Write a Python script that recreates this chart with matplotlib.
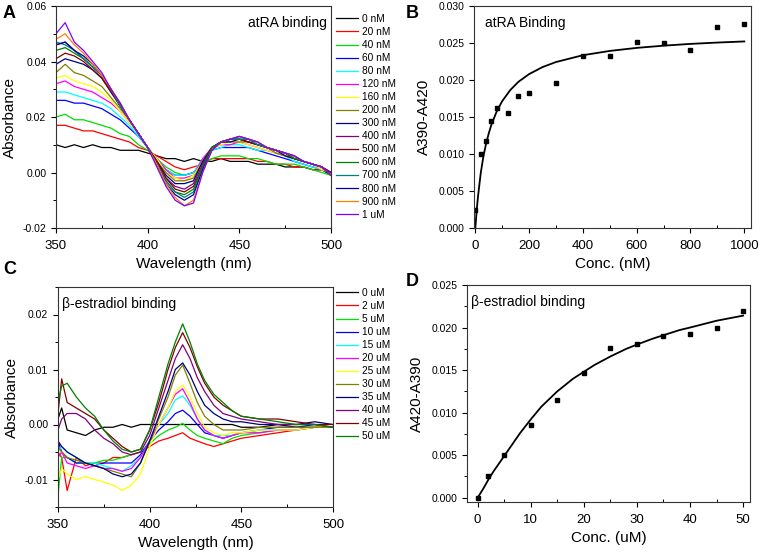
import numpy as np
import matplotlib.pyplot as plt
from matplotlib.ticker import MultipleLocator, FormatStrFormatter

plt.rcParams['font.family'] = ['Liberation Sans', 'DejaVu Sans']
plt.rcParams['axes.unicode_minus'] = False

# Origin default colour order
origin_colors = ['#000000', '#ff0000', '#00e000', '#0000ff', '#00ffff', '#ff00ff',
                 '#ffff00', '#808000', '#000080', '#800080', '#800000', '#008000',
                 '#008080', '#0000a0', '#ff8000', '#8000ff']

# ---- Panel A: atRA spectra (values in 1e-3 absorbance units) ----
wl_a = [350, 355, 360, 365, 370, 375, 380, 385, 390, 395, 400, 405, 410, 415, 420, 425,
        430, 435, 440, 445, 450, 455, 460, 465, 470, 475, 480, 485, 490, 495, 500]
labels_a = ['0 nM', '20 nM', '40 nM', '60 nM', '80 nM', '120 nM', '160 nM', '200 nM',
            '300 nM', '400 nM', '500 nM', '600 nM', '700 nM', '800 nM', '900 nM', '1 uM']
spec_a = [
    [10, 9, 10, 9, 10, 9, 9, 8, 8, 8, 7, 6, 5, 5, 4, 5, 4, 4, 5, 4, 4, 4, 3, 3, 3, 2, 2, 2, 1, 1, -1],
    [17, 17, 16, 15, 15, 14, 13, 12, 11, 9, 8, 6, 4, 2, 1, 2, 3, 5, 5, 5, 5, 5, 4, 4, 3, 3, 2, 2, 1, 1, 0],
    [20, 21, 19, 19, 18, 17, 16, 14, 13, 10, 8, 5, 2, 0, -1, 0, 3, 5, 6, 6, 6, 5, 5, 4, 3, 3, 3, 2, 1, 0, -1],
    [26, 26, 25, 25, 24, 23, 21, 19, 16, 13, 9, 5, 1, -1, -1, 0, 4, 8, 9, 9, 9, 9, 8, 7, 6, 5, 4, 3, 2, 1, 0],
    [29, 29, 28, 27, 26, 25, 23, 20, 17, 13, 9, 5, 1, -1, -1, 0, 5, 8, 9, 10, 10, 9, 8, 8, 7, 6, 4, 3, 2, 1, 0],
    [32, 33, 31, 30, 29, 27, 25, 22, 18, 14, 9, 5, 1, -2, -2, -1, 5, 9, 10, 10, 11, 10, 9, 8, 7, 6, 5, 4, 3, 1, 0],
    [34, 35, 33, 32, 31, 29, 26, 22, 18, 14, 9, 5, 0, -2, -3, -1, 4, 9, 10, 11, 11, 10, 9, 8, 7, 6, 5, 4, 3, 1, 0],
    [36, 39, 36, 35, 33, 31, 27, 23, 19, 14, 9, 4, 0, -3, -3, -2, 4, 9, 11, 11, 11, 11, 10, 9, 7, 6, 5, 4, 3, 2, 0],
    [39, 41, 40, 39, 37, 34, 29, 24, 19, 14, 9, 4, -1, -4, -4, -3, 4, 9, 11, 11, 12, 11, 10, 9, 8, 6, 5, 4, 3, 2, 0],
    [46, 47, 44, 41, 38, 35, 30, 24, 19, 14, 9, 4, -2, -5, -6, -4, 3, 9, 11, 12, 12, 11, 10, 9, 8, 7, 5, 4, 3, 2, 0],
    [41, 43, 42, 40, 37, 34, 29, 24, 19, 14, 9, 4, -2, -6, -7, -5, 2, 9, 11, 12, 12, 11, 10, 9, 8, 7, 5, 4, 3, 2, -1],
    [44, 45, 43, 41, 38, 35, 30, 24, 19, 14, 9, 3, -3, -7, -8, -6, 2, 9, 11, 12, 12, 12, 10, 9, 8, 7, 5, 4, 3, 2, -1],
    [47, 46, 44, 41, 38, 35, 30, 24, 19, 14, 9, 3, -3, -7, -9, -7, 1, 8, 11, 12, 12, 12, 10, 9, 8, 7, 6, 4, 3, 2, -1],
    [46, 47, 44, 42, 39, 35, 30, 25, 19, 14, 9, 3, -4, -8, -10, -8, 1, 8, 11, 12, 13, 12, 11, 9, 8, 7, 6, 4, 3, 2, -1],
    [48, 50, 46, 43, 39, 35, 30, 25, 19, 14, 9, 3, -4, -9, -12, -10, 0, 8, 11, 12, 13, 12, 11, 9, 8, 7, 6, 4, 3, 2, -1],
    [50, 54, 47, 44, 40, 36, 30, 25, 19, 14, 9, 2, -5, -10, -12, -11, 0, 8, 11, 12, 13, 12, 11, 9, 8, 7, 6, 4, 3, 2, -1],
]

# ---- Panel B: atRA binding ----
conc_b = [0, 20, 40, 60, 80, 120, 160, 200, 300, 400, 500, 600, 700, 800, 900, 1000]
dabs_b = [0.0024, 0.0100, 0.0117, 0.0144, 0.0162, 0.0156, 0.0178, 0.0183, 0.0196,
          0.0233, 0.0232, 0.0252, 0.0250, 0.0240, 0.0272, 0.0276]
fit_x_b = [0, 5, 10, 20, 30, 40, 50, 60, 80, 100, 130, 160, 200, 250, 300, 400, 500,
           600, 700, 800, 900, 1000]
fit_y_b = [0.0, 0.00240, 0.00430, 0.00740, 0.00970, 0.01140, 0.01280, 0.01400, 0.01580,
           0.01715, 0.01865, 0.01975, 0.02080, 0.02175, 0.02243, 0.02335, 0.02393,
           0.02434, 0.02464, 0.02488, 0.02506, 0.02521]

# ---- Panel C: beta-estradiol spectra (1e-3 units) ----
wl_c = [350, 352, 355, 360, 365, 370, 375, 380, 385, 390, 395, 400, 405, 410, 414, 418,
        422, 426, 430, 435, 440, 445, 450, 460, 470, 480, 490, 500]
labels_c = ['0 uM', '2 uM', '5 uM', '10 uM', '15 uM', '20 uM', '25 uM', '30 uM',
            '35 uM', '40 uM', '45 uM', '50 uM']
spec_c = [
    [1, 3, -1, -1.5, -2, -1, -0.5, -0.5, 0, -0.5, 0, 0, 0, 0, 0, 0, 0, 0, 0, 0, 0, 0, -0.5, -0.5, 0, -0.5, -0.5, -0.5],
    [-5, -6, -12, -6, -7.5, -7, -7, -6, -6, -5.5, -5, -4, -3, -2.5, -2, -1.5, -2.5, -3, -3.5, -4, -3.5, -3, -2.5, -2, -1.5, -1, -0.5, -0.5],
    [-13, -6, -6, -7, -7, -7, -6.5, -6.5, -6, -5.5, -5, -3.5, -2, -1, -0.5, 0.2, -1, -2, -2.5, -3, -3.5, -2.5, -2, -1.5, -1, -1, -0.5, -0.5],
    [-3, -5, -6, -7, -7, -7.5, -7, -7, -7, -7, -5.5, -3, -1, 0.5, 2, 2.6, 1.5, 0, -1.5, -2, -2.5, -2, -1.5, -1, -0.5, -0.5, 0, -0.5],
    [-5, -4, -5, -6, -7, -7, -7.5, -8, -8.5, -7.5, -6, -3, 0, 2, 4.5, 5.2, 3.5, 1, -1, -2, -2, -2, -1.5, -1, -1, -1, -0.5, -0.5],
    [-6, -5, -7, -7.5, -8, -7.5, -8, -8, -8.5, -8, -6, -3, 0, 3, 5.5, 6.5, 4, 1, -1, -2, -2.5, -2, -1.5, -1.5, -1, -1, -0.5, -0.5],
    [-10, -8, -9, -10, -9.5, -10, -10.5, -11, -12, -11, -9, -4, 0, 3, 6, 7.2, 5, 2, -0.5, -1.5, -2, -1.5, -1.5, -1, -1, -1, -0.5, -0.5],
    [-4, -5, -6, -6.5, -7, -7.5, -8, -8.5, -9, -9.5, -7, -3, 1, 5, 9, 10.8, 7.5, 4, 1.5, 0, -1, -1, -1, -0.5, -0.5, -0.5, -0.5, -0.5],
    [-3, -4, -5, -6, -7, -7.5, -8, -9, -9.5, -9, -7, -3, 1.5, 6, 10, 11.2, 9, 6, 3.5, 2, 1, 0.5, 0.5, 0, 0, 0, 0.5, 0],
    [-1, 1, 2, 2, 1, -1, -2.5, -3.5, -5, -5.5, -5, -2, 3, 8, 12, 14.5, 12, 8.5, 6, 3.5, 2, 1.5, 1, 0.5, 0, 0, 0, -0.5],
    [2, 8.3, 4, 3, 2, 1, -1, -2.5, -4, -5, -4.5, -1, 4, 10, 14, 16.7, 14, 10.5, 7.5, 5, 3.5, 2.5, 1.5, 1, 1, 0.5, 0, 0],
    [4, 7, 7.5, 5, 3, 1.5, -1, -3, -4.5, -5, -4.5, -1, 5, 11, 15, 18.3, 15, 11, 8, 5.5, 4, 2.5, 1.5, 1, 0.5, 0, 0, -0.5],
]

# ---- Panel D: beta-estradiol binding ----
conc_d = [0, 2, 5, 10, 15, 20, 25, 30, 35, 40, 45, 50]
dabs_d = [0.0000, 0.0025, 0.0050, 0.0085, 0.0115, 0.0147, 0.0176, 0.0181, 0.0190,
          0.0193, 0.0200, 0.0219]
fit_x_d = [0, 1, 2, 3, 4, 5, 6, 8, 10, 12, 15, 18, 20, 22, 25, 28, 30, 33, 35, 38, 40, 45, 50]
fit_y_d = [0.0, 0.0010, 0.0021, 0.0031, 0.0040, 0.0049, 0.0058, 0.0076, 0.0092, 0.0107,
           0.0125, 0.0140, 0.0148, 0.0156, 0.0166, 0.0175, 0.0180, 0.0187, 0.0191,
           0.0197, 0.0200, 0.0208, 0.0214]

W, H = 759, 552
fig = plt.figure(figsize=(W / 100, H / 100), dpi=100)


def px_axes(x0, y0, x1, y1):
    return fig.add_axes([x0 / W, 1 - y1 / H, (x1 - x0) / W, (y1 - y0) / H])


def style(ax):
    for s in ax.spines.values():
        s.set_linewidth(0.8)
        s.set_color('#333333')
    ax.tick_params(which='major', direction='out', length=3.5, width=0.8)
    ax.tick_params(axis='x', which='major', labelsize=9.5, pad=5)
    ax.tick_params(axis='y', which='major', labelsize=7.5)
    ax.tick_params(axis='y', which='minor', direction='out', length=2, width=0.7)
    ax.tick_params(axis='x', which='minor', direction='in', length=2.5, width=0.7)


axA = px_axes(56, 6, 331, 228)
axB = px_axes(474, 6, 751, 228)
axC = px_axes(58, 287, 333, 507)
axD = px_axes(467, 285, 750, 502)

# Panel A
for vals, lab, col in zip(spec_a, labels_a, origin_colors):
    axA.plot(wl_a, np.array(vals) / 1000, color=col, lw=0.9, label=lab)
axA.set_xlim(350, 500)
axA.set_ylim(-0.02, 0.06)
axA.xaxis.set_major_locator(MultipleLocator(50))
axA.xaxis.set_minor_locator(MultipleLocator(25))
axA.yaxis.set_major_locator(MultipleLocator(0.02))
axA.yaxis.set_minor_locator(MultipleLocator(0.01))
axA.yaxis.set_major_formatter(FormatStrFormatter('%.2f'))
axA.set_xlabel('Wavelength (nm)', fontsize=11, labelpad=4)
axA.set_ylabel('Absorbance', fontsize=11, labelpad=4)
axA.text(0.985, 0.955, 'atRA binding', transform=axA.transAxes, ha='right', va='top', fontsize=10)
style(axA)
axA.legend(loc='upper left', bbox_to_anchor=(336 / W, 1 - 14 / H), bbox_transform=fig.transFigure,
           frameon=False, fontsize=7.3, handlelength=2.2, handletextpad=0.4, labelspacing=0.3,
           borderpad=0, borderaxespad=0)

# Panel B
axB.plot(fit_x_b, fit_y_b, color='black', lw=1.3)
axB.plot(conc_b, dabs_b, 's', color='black', ms=3.5)
axB.set_xlim(-5, 1025)
axB.set_ylim(0, 0.030)
axB.xaxis.set_major_locator(MultipleLocator(200))
axB.xaxis.set_minor_locator(MultipleLocator(100))
axB.yaxis.set_major_locator(MultipleLocator(0.005))
axB.yaxis.set_major_formatter(FormatStrFormatter('%.3f'))
axB.set_xlabel('Conc. (nM)', fontsize=11, labelpad=4)
axB.set_ylabel('A390-A420', fontsize=11, labelpad=5)
axB.text(0.04, 0.955, 'atRA Binding', transform=axB.transAxes, ha='left', va='top', fontsize=10)
style(axB)

# Panel C
for vals, lab, col in zip(spec_c, labels_c, origin_colors):
    axC.plot(wl_c, np.array(vals) / 1000, color=col, lw=0.9, label=lab)
axC.set_xlim(350, 500)
axC.set_ylim(-0.015, 0.025)
axC.xaxis.set_major_locator(MultipleLocator(50))
axC.xaxis.set_minor_locator(MultipleLocator(25))
axC.yaxis.set_major_locator(MultipleLocator(0.01))
axC.yaxis.set_minor_locator(MultipleLocator(0.005))
axC.yaxis.set_major_formatter(FormatStrFormatter('%.2f'))
axC.set_xlabel('Wavelength (nm)', fontsize=11, labelpad=4)
axC.set_ylabel('Absorbance', fontsize=11, labelpad=4)
axC.text(0.015, 0.955, 'β-estradiol binding', transform=axC.transAxes, ha='left', va='top', fontsize=10)
style(axC)
axC.legend(loc='upper left', bbox_to_anchor=(336 / W, 1 - 288 / H), bbox_transform=fig.transFigure,
           frameon=False, fontsize=7.3, handlelength=2.2, handletextpad=0.4, labelspacing=0.3,
           borderpad=0, borderaxespad=0)

# Panel D
axD.plot(fit_x_d, fit_y_d, color='black', lw=1.3)
axD.plot(conc_d, dabs_d, 's', color='black', ms=3.5)
axD.set_xlim(-2, 51.3)
axD.set_ylim(-0.0005, 0.025)
axD.xaxis.set_major_locator(MultipleLocator(10))
axD.xaxis.set_minor_locator(MultipleLocator(5))
axD.yaxis.set_major_locator(MultipleLocator(0.005))
axD.yaxis.set_minor_locator(MultipleLocator(0.0025))
axD.yaxis.set_major_formatter(FormatStrFormatter('%.3f'))
axD.set_xlabel('Conc. (uM)', fontsize=11, labelpad=4)
axD.set_ylabel('A420-A390', fontsize=11, labelpad=5)
axD.text(0.015, 0.955, 'β-estradiol binding', transform=axD.transAxes, ha='left', va='top', fontsize=10)
style(axD)

# Panel letters
for lbl, x, y in [('A', 3, 14), ('B', 406, 14), ('C', 3, 270), ('D', 406, 282)]:
    fig.text(x / W, 1 - y / H, lbl, fontsize=13, fontweight='bold', va='center', ha='left')

fig.savefig('out.png', dpi=100)
